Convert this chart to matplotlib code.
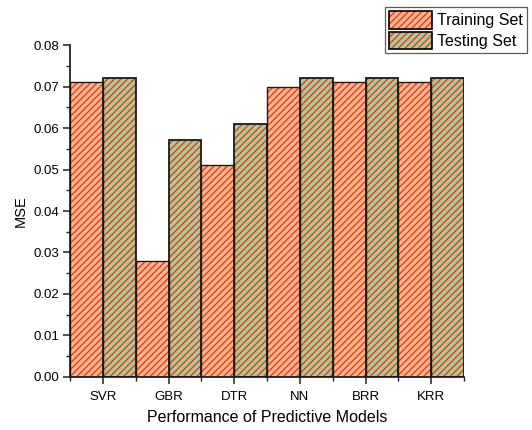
import matplotlib
matplotlib.use("Agg")
import matplotlib.pyplot as plt
import numpy as np
from matplotlib.patches import Patch

plt.rcParams['font.family'] = ['Liberation Sans', 'DejaVu Sans']
plt.rcParams['hatch.linewidth'] = 1.05

models = ["SVR", "GBR", "DTR", "NN", "BRR", "KRR"]
training_mse = [0.071, 0.028, 0.051, 0.070, 0.071, 0.071]
testing_mse = [0.072, 0.057, 0.061, 0.072, 0.072, 0.072]
series_names = ["Training Set", "Testing Set"]

hatch_red = "#EE3A2A"
train_face = "#FFBC8A"
test_face = "#A6CF96"
hatch = "/" * 5

fig = plt.figure(figsize=(5.32, 4.30), dpi=100)
ax = fig.add_axes([0.1316, 0.1233, 0.7406, 0.772])

x = np.arange(1, len(models) + 1)
w = 0.5

def hatched_bars(xpos, values, face, edge_lw):
    ax.bar(xpos, values, width=w, align="edge", color=face, hatch=hatch,
           edgecolor=hatch_red, linewidth=0, zorder=2)
    ax.bar(xpos, values, width=w, align="edge", fill=False,
           edgecolor="#1a1a1a", linewidth=edge_lw, zorder=3)

hatched_bars(x - w, training_mse, train_face, 1.0)
hatched_bars(x, testing_mse, test_face, 1.3)

ax.set_xlim(0.5, len(models) + 0.5)
ax.set_ylim(0, 0.08)
ax.set_xticks(x)
ax.set_xticklabels(models)
ax.set_xticks(np.arange(0.5, len(models) + 1, 1.0), minor=True)
yt = np.arange(0, 0.081, 0.01)
ax.set_yticks(yt)
ax.set_yticklabels([f"{v:.2f}" for v in yt])
ax.set_yticks(np.arange(0.005, 0.08, 0.01), minor=True)

for side in ("top", "right"):
    ax.spines[side].set_visible(False)
for side in ("left", "bottom"):
    ax.spines[side].set_linewidth(1.3)
    ax.spines[side].set_color("#222222")

ax.tick_params(axis="both", which="major", direction="out", length=5,
               width=1.1, labelsize=9.5, colors="#222222", labelcolor="black")
ax.tick_params(axis="both", which="minor", direction="out", length=3,
               width=1.0, colors="#222222")
ax.tick_params(axis="x", which="major", pad=5)
ax.tick_params(axis="y", which="major", pad=3)

ax.set_xlabel("Performance of Predictive Models", fontsize=11.5, labelpad=5)
ax.set_ylabel("MSE", fontsize=10.5, labelpad=4)

handles = [
    Patch(facecolor=train_face, edgecolor=hatch_red, hatch=hatch, linewidth=0),
    Patch(facecolor=test_face, edgecolor=hatch_red, hatch=hatch, linewidth=0),
]
outline = [Patch(fill=False, edgecolor="black", linewidth=1.2) for _ in range(2)]
leg = fig.legend([(h, o) for h, o in zip(handles, outline)], series_names,
                 loc="upper right", bbox_to_anchor=(0.991, 0.983),
                 fontsize=11.5, frameon=True, fancybox=False, edgecolor="#333333",
                 borderpad=0.25, labelspacing=0.2, handlelength=2.7,
                 handleheight=1.3, handletextpad=0.35, borderaxespad=0.0)
leg.get_frame().set_linewidth(0.9)

fig.savefig("out.png", dpi=100)
